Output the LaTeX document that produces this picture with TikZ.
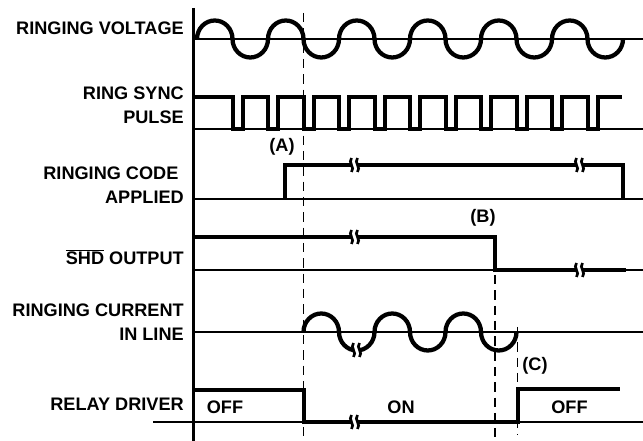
\documentclass[tikz,border=0pt]{standalone}
\usepackage{fontspec}
\setmainfont{Liberation Sans}
\tikzset{
  sig/.style={line width=3pt},
  wave/.style={line width=3.2pt},
  base/.style={line width=1.5pt},
  guide/.style={line width=1.4pt, dash pattern=on 7pt off 4.5pt},
  lbl/.style={font=\fontsize{13.6}{18}\selectfont\bfseries, anchor=east, align=right, inner sep=0pt},
  tag/.style={font=\fontsize{13.6}{18}\selectfont\bfseries, inner sep=0pt},
  brk/.pic={
    \fill[white] (-3.5,-7) .. controls (-7.5,-2.5) and (0.5,2.5) .. (-3.5,7) -- (2.5,7) .. controls (6.5,2.5) and (-1.5,-2.5) .. (2.5,-7) -- cycle;
    \draw[line width=2pt] (-3.5,-7) .. controls (-7.5,-2.5) and (0.5,2.5) .. (-3.5,7);
    \draw[line width=2pt] (2.5,-7) .. controls (-1.5,-2.5) and (6.5,2.5) .. (2.5,7);
  }
}
\begin{document}
\begin{tikzpicture}[x=0.75pt,y=-0.75pt]
            \useasboundingbox (0,0) rectangle (643,441);
            % Labels
            \node[lbl] (volt) at (184,28) {RINGING VOLTAGE};
            \node[lbl] (sync) at (184,105) {RING SYNC\\PULSE};
            \node[lbl] (code) at (184,185) {RINGING CODE\hspace*{4pt}\\APPLIED};
            \node[lbl] (shd) at (184,257) {$\overline{\hbox{SHD}}$ OUTPUT};
            \node[lbl] (curr) at (184,322) {RINGING CURRENT\\IN LINE};
            \node[lbl] (relay) at (184,404) {RELAY DRIVER};
            % Axis and guides
            \draw[line width=2pt] (193.5,8) -- (193.5,441);
            \draw[guide] (303.5,13) -- (303.5,438);
            \draw[guide] (495,275) -- (495,437);
            \draw[guide] (517.5,327) -- (517.5,435);
            % Baselines
            \foreach \y in {39,129,199,270,332}
                \draw[base] (193.5,\y) -- (643,\y);
            \draw[base] (153,422) -- (643,422);
            % Ringing voltage
            \draw[wave] (197,39) \foreach \k in {1,...,6} {
                arc[start angle=180, end angle=360, x radius=17.75, y radius=18.5]
                arc[start angle=180, end angle=0, x radius=17.75, y radius=18.5] };
            % Ring sync pulse
            \draw[sig] (193.5,97) \foreach \k [evaluate=\k as \x using 197+35.5*\k] in {1,...,11} {
                -- (\x,97) -- (\x,129) -- (\x+10,129) -- (\x+10,97) } -- (622,97);
            % Ringing code applied
            \draw[sig] (285,199) -- (285,165) -- (623,165) -- (623,199);
            \node[tag] (A) at (282,147) {(A)};
            % SHD output
            \draw[sig] (193,237) -- (495,237) -- (495,270) -- (626,270);
            \node[tag] (B) at (483,218) {(B)};
            % Ringing current in line
            \draw[wave] (303.5,332) \foreach \k in {1,...,3} {
                arc[start angle=180, end angle=360, x radius=17.75, y radius=18.5]
                arc[start angle=180, end angle=0, x radius=17.75, y radius=18.5] };
            \node[tag] (C) at (535,366) {(C)};
            % Relay driver
            \draw[sig] (193,390) -- (304,390) -- (304,422) -- (517.5,422) -- (517.5,389) -- (620,389);
            \node[tag] (off1) at (225,407) {OFF};
            \node[tag] (on) at (401,407) {ON};
            \node[tag] (off2) at (569.5,407) {OFF};
            % Breaks
            \pic at (355,165) {brk};
            \pic at (580,165) {brk};
            \pic at (355,237) {brk};
            \pic at (580,270) {brk};
            \pic at (357,350) {brk};
            \pic at (355,422) {brk};
        \end{tikzpicture}
\end{document}
